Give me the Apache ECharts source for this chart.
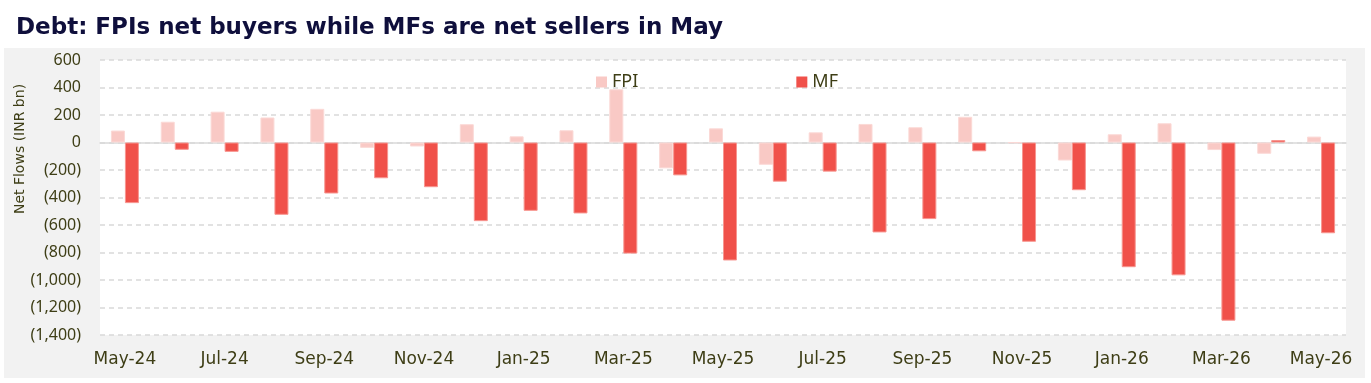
<!DOCTYPE html>
<html>
<head>
<meta charset="utf-8">
<script src="https://cdn.jsdelivr.net/npm/echarts@6/dist/echarts.min.js"></script>
<style>
  html, body { margin: 0; padding: 0; background: #fff; }
  #chart { width: 1371px; height: 383px; }
</style>
</head>
<body>
<div id="chart"></div>
<script>
// months from May-24 to May-26
const months = ['May-24', 'Jun-24', 'Jul-24', 'Aug-24', 'Sep-24', 'Oct-24', 'Nov-24', 'Dec-24',
  'Jan-25', 'Feb-25', 'Mar-25', 'Apr-25', 'May-25', 'Jun-25', 'Jul-25', 'Aug-25', 'Sep-25',
  'Oct-25', 'Nov-25', 'Dec-25', 'Jan-26', 'Feb-26', 'Mar-26', 'Apr-26', 'May-26']
const fpi = [87, 151, 224, 182, 245, -39, -29, 133, 45, 89, 387, -188, 103, -162, 74, 135,
  111, 187, -2, -131, 60, 140, -55, -82, 43]
const mf = [-441, -53, -68, -526, -371, -260, -325, -572, -497, -516, -808, -239, -858, -285,
  -212, -654, -557, -64, -722, -347, -907, -966, -1296, 18, -660]
const yMin = -1400
const yMax = 600
const yStep = 200

const textColor = '#3e3e16'
const font = 'Noto Sans'
const wide = 'DejaVu Sans'

const fmt = (v) => {
  const s = Math.abs(v).toLocaleString('en-US')
  return v < 0 ? '(' + s + ')' : s
}

const chart = echarts.init(document.getElementById('chart'))
chart.setOption({
  animation: false,
  textStyle: { fontFamily: font },
  title: {
    text: 'Debt: FPIs net buyers while MFs are net sellers in May',
    left: 11,
    top: 12,
    textStyle: { fontFamily: wide, fontWeight: 'bold', fontSize: 23, color: '#0f0f3c' },
  },
  graphic: [
    {
      type: 'rect',
      z: -100,
      silent: true,
      shape: { x: 4, y: 48, width: 1361, height: 330 },
      style: { fill: '#f2f2f2' },
    },
    {
      type: 'text',
      x: 20,
      y: 149,
      rotation: Math.PI / 2,
      style: {
        text: 'Net Flows (INR bn)',
        fontFamily: wide,
        fontSize: 14,
        fill: textColor,
        align: 'center',
        verticalAlign: 'middle',
      },
    },
  ],
  legend: {
    left: 591,
    top: 68,
    itemWidth: 11,
    itemHeight: 11,
    itemGap: 158,
    icon: 'rect',
    itemStyle: { borderWidth: 0 },
    textStyle: { fontFamily: font, fontSize: 18, color: textColor },
    data: ['FPI', 'MF'],
  },
  grid: {
    left: 100,
    right: 25,
    top: 60,
    bottom: 48,
    show: true,
    backgroundColor: '#fff',
    borderWidth: 0,
  },
  xAxis: [
    {
      type: 'category',
      data: months,
      position: 'bottom',
      axisLine: { show: false, onZero: false },
      axisTick: { show: false },
      axisLabel: { interval: 1, margin: 16, fontSize: 17, color: textColor, fontFamily: wide },
    },
    {
      type: 'category',
      data: months,
      axisLine: { onZero: true, lineStyle: { color: '#d9d9d9', width: 1.5 } },
      axisTick: { interval: 1, length: 6, lineStyle: { color: '#d9d9d9', width: 1.5 } },
      axisLabel: { show: false },
    },
  ],
  yAxis: {
    type: 'value',
    min: yMin,
    max: yMax,
    interval: yStep,
    axisLine: { show: false },
    axisTick: { show: false },
    axisLabel: { margin: 19, fontSize: 16, color: textColor, fontFamily: font, formatter: fmt },
    splitLine: { lineStyle: { color: '#d9d9d9', type: [5, 4], width: 1.5 } },
  },
  series: [
    {
      name: 'FPI',
      type: 'bar',
      data: fpi,
      barWidth: 14,
      barGap: '0%',
      itemStyle: { color: '#f9c9c5', borderColor: '#fbd9d6', borderWidth: 1 },
    },
    {
      name: 'MF',
      type: 'bar',
      data: mf,
      barWidth: 14,
      barGap: '0%',
      itemStyle: { color: '#f0514a', borderColor: '#f79690', borderWidth: 1 },
    },
  ],
})
</script>
</body>
</html>
